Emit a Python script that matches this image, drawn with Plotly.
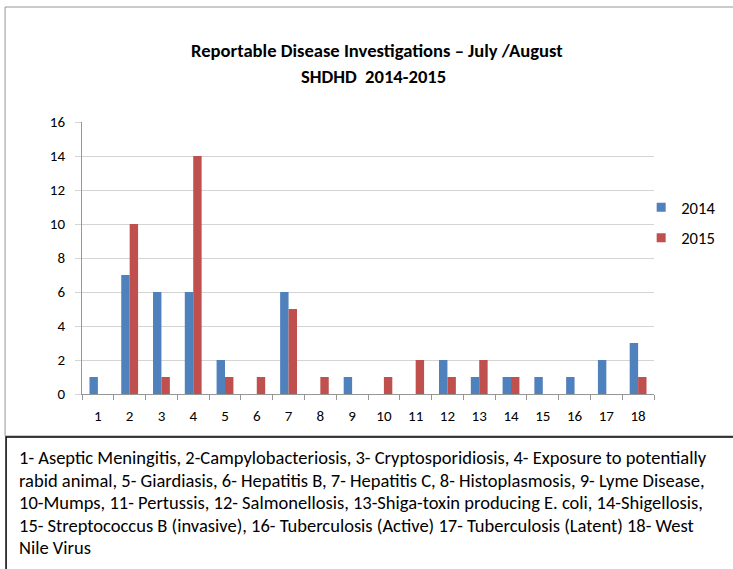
import plotly.graph_objects as go

categories = [str(i) for i in range(1, 19)]
values_2014 = [1, 7, 6, 6, 2, 0, 6, 0, 1, 0, 0, 2, 1, 1, 1, 1, 2, 3]
values_2015 = [0, 10, 1, 14, 1, 1, 5, 1, 0, 1, 2, 1, 2, 1, 0, 0, 0, 1]
series_names = ["2014", "2015"]
series_colors = ["#4F81BD", "#C0504D"]
y_ticks = [0, 2, 4, 6, 8, 10, 12, 14, 16]
title_lines = ["Reportable Disease Investigations \u2013 July /August", "SHDHD  2014-2015"]
key_lines = [
    "1- Aseptic Meningitis, 2-Campylobacteriosis, 3- Cryptosporidiosis, 4- Exposure to potentially",
    "rabid animal, 5- Giardiasis, 6- Hepatitis B, 7- Hepatitis C, 8- Histoplasmosis, 9- Lyme Disease,",
    "10-Mumps, 11- Pertussis, 12- Salmonellosis, 13-Shiga-toxin producing E. coli, 14-Shigellosis,",
    "15- Streptococcus B (invasive), 16- Tuberculosis (Active) 17- Tuberculosis (Latent) 18- West",
    "Nile Virus",
]

W, H = 733, 569
L, R, T, B = 82, 662, 122, 394
def px(x):
    return (x - L) / (R - L)
def py(y):
    return (B - y) / (B - T)

FONT = "Carlito, 'Liberation Sans Narrow', 'Noto Sans', sans-serif"
fig = go.Figure()
for name, vals, col, grp in zip(series_names, [values_2014, values_2015], series_colors, ["a", "b"]):
    fig.add_trace(go.Bar(x=categories, y=vals, name=name, marker_color=col,
                         marker_line_width=0, legendgroup=grp, showlegend=False))
    fig.add_trace(go.Scatter(x=[None], y=[None], mode="markers", name=name, legendgroup=grp,
                             marker=dict(symbol="square", size=9, color=col)))

annotations = []
for t, yy, xx in zip(title_lines, [50, 77], [381, 378]):
    annotations.append(dict(text="<b>%s</b>" % t, x=px(xx), y=py(yy), xref="paper", yref="paper",
                            showarrow=False, xanchor="center", yanchor="middle",
                            font=dict(family=FONT, size=18.6, color="#000")))
for t, yy in zip(key_lines, [457, 480, 502, 525, 547]):
    annotations.append(dict(text=t, x=px(16), y=py(yy), xref="paper", yref="paper",
                            showarrow=False, xanchor="left", yanchor="middle",
                            font=dict(family=FONT, size=18.5, color="#000")))

shapes = [
    dict(type="rect", xref="paper", yref="paper", x0=px(4), x1=px(760), y0=py(436), y1=py(7),
         line=dict(color="#969696", width=1)),
    dict(type="rect", xref="paper", yref="paper", x0=px(5), x1=px(760), y0=py(580), y1=py(437),
         line=dict(color="#000000", width=1.5)),
]

fig.update_layout(
    width=W, height=H, autosize=False,
    margin=dict(l=L, r=W - R, t=T, b=H - B, pad=0),
    paper_bgcolor="white", plot_bgcolor="white",
    barmode="group", bargap=0.47, bargroupgap=0,
    font=dict(family=FONT, size=15, color="#000"),
    showlegend=True,
    legend=dict(x=px(649), y=py(190), xanchor="left", yanchor="top",
                font=dict(family=FONT, size=16.6, color="#000"), itemwidth=30,
                tracegroupgap=6, bgcolor="rgba(0,0,0,0)"),
    annotations=annotations,
    shapes=shapes,
    xaxis=dict(type="category", tickson="boundaries", ticks="outside", ticklen=5,
               tickcolor="#969696", showline=True, linecolor="#969696", linewidth=1,
               showgrid=False, tickfont=dict(size=15), range=[-0.5, 17.5], fixedrange=True,
               ticklabelstandoff=8),
    yaxis=dict(range=[0, 16], tickvals=y_ticks, showgrid=True, gridcolor="#D4D4D4", gridwidth=1,
               showline=True, linecolor="#969696", linewidth=1, ticks="outside", ticklen=6,
               tickcolor="#D4D4D4", zeroline=False, tickfont=dict(size=15),
               ticklabelstandoff=7),
)

fig.write_html(
    "out.html",
    config={"responsive": False, "displayModeBar": False},
    post_script=(
        "document.documentElement.style.overflow='hidden';"
        "document.body.style.margin='0';document.body.style.overflow='hidden';"
    ),
)
